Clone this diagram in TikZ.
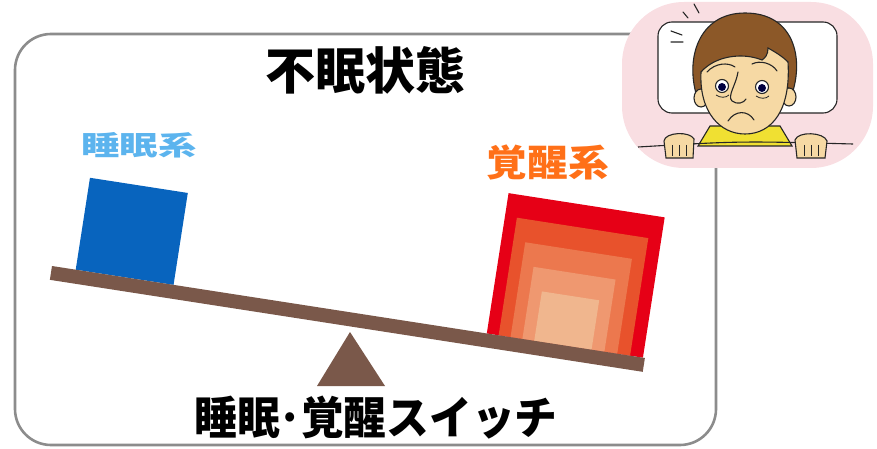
\documentclass[tikz,border=0pt]{standalone}
\usepackage{fontspec}
\newfontfamily\jp{Noto Sans CJK JP}
\usetikzlibrary{positioning}

\definecolor{beamcol}{RGB}{122,88,74}
\definecolor{sleepcol}{RGB}{8,100,190}
\definecolor{sleeptxt}{RGB}{92,180,238}
\definecolor{waketxt}{RGB}{255,112,24}
\definecolor{redA}{RGB}{230,0,22}
\definecolor{redB}{RGB}{232,82,44}
\definecolor{redC}{RGB}{236,120,78}
\definecolor{redD}{RGB}{239,152,112}
\definecolor{redE}{RGB}{240,182,142}
\definecolor{pinkbg}{RGB}{249,222,226}
\definecolor{skin}{RGB}{246,217,164}
\definecolor{hair}{RGB}{140,88,40}
\definecolor{shirt}{RGB}{240,224,50}

\begin{document}
\begin{tikzpicture}[x=1pt, y=-1pt,
  frame/.style={draw=black!45, line width=2.6pt, rounded corners=36pt},
  heading/.style={font=\jp\bfseries\fontsize{50}{50}\selectfont, inner sep=0pt},
  caption/.style={font=\jp\bfseries\fontsize{45}{45}\selectfont, inner sep=0pt},
  sidelabel/.style={font=\jp\bfseries, inner sep=0pt},
  ink/.style={draw=black!85, line width=1.1pt},
  ]
\useasboundingbox (0,0) rectangle (877,449);

% outer frame
\draw[frame] (15,34) rectangle (716,445);

% seesaw: boxes, beam, fulcrum
\begin{scope}[shift={(52,266)}, rotate=-8.82]
  \fill[sleepcol] (24,-93) rectangle (123,0);
  \foreach \c [count=\i from 0] in {redA,redB,redC,redD,redE}
    \fill[\c] (440+12*\i, -142+23*\i) rectangle (598-13*\i, 0);
  \fill[beamcol] (0,0) rectangle (600,14);
\end{scope}
\fill[beamcol] (350,332) -- (385,386) -- (317,386) -- cycle;

% labels
\node[heading] (title) at (365,70) {不眠状態};
\node[sidelabel, text=sleeptxt] (sleeplabel) at (139,145)
  {\fontsize{27}{27}\selectfont\scalebox{1.42}[1]{睡眠系}};
\node[sidelabel, text=waketxt] (wakelabel) at (548,162)
  {\fontsize{37}{37}\selectfont\scalebox{1.1}[1]{覚醒系}};
\node[caption] (switch) at (376,418) {\scalebox{0.95}[1]{睡眠･覚醒スイッチ}};

% sleepless boy in bed
\fill[pinkbg, rounded corners=62pt] (622,2) rectangle (873,168);
\draw[ink, fill=white, rounded corners=14pt] (658,22) rectangle (837,113);
\draw[ink, line cap=round] (683,12) -- (688,18) (694,4) -- (699,13)
  (671,31) -- (682,35) (671,42) -- (683,42);
% hair
\draw[ink, fill=hair] (698,100) .. controls (684,60) and (698,13) .. (745,13)
  .. controls (794,13) and (804,58) .. (792,94) -- (770,60) -- (720,60) -- cycle;
% shirt
\draw[ink, fill=shirt] (710,126) -- (780,126) -- (792,146) -- (698,146) -- cycle;
% ears and face
\draw[ink, fill=skin] (701,98) ellipse (7pt and 9pt);
\draw[ink, fill=skin] (789,97) ellipse (7pt and 9pt);
\draw[ink, fill=skin] (701,72) .. controls (699,112) and (720,134) .. (745,134)
  .. controls (772,134) and (791,110) .. (788,62)
  .. controls (782,56) and (775,52) .. (768,48)
  .. controls (768,55) and (765,58) .. (762,60)
  .. controls (742,52) and (715,56) .. (701,72) -- cycle;
% eyes, brows, nose, mouth
\draw[ink, fill=white] (722,86) circle (6.5pt) (762,87) circle (6.5pt);
\fill[black!75!blue] (722,87) circle (4pt) (762,88) circle (4pt);
\draw[ink, line width=0.8pt] (716,95) .. controls (720,98) and (726,98) .. (729,95)
  (756,96) .. controls (760,99) and (766,99) .. (769,96);
\draw[ink, line cap=round] (707,72) .. controls (715,63) and (728,62) .. (735,67)
  (752,64) .. controls (760,60) and (772,63) .. (777,71);
\draw[ink, line cap=round] (738,72) .. controls (736,85) and (727,96) .. (732,101)
  .. controls (737,105) and (744,103) .. (746,99);
\draw[ink, line cap=round] (728,121) .. controls (735,110) and (748,110) .. (754,120);
% blanket edge and hands
\draw[ink] (638,147) .. controls (740,141) .. (853,144);
\draw[ink, fill=skin] (666,158) -- (664,141) .. controls (665,132) and (690,131) .. (694,139)
  -- (693,158) -- cycle;
\draw[ink, fill=skin] (797,158) -- (795,140) .. controls (798,131) and (824,132) .. (827,141)
  -- (825,158) -- cycle;
\foreach \x in {672,679,686,804,811,818}
  \draw[ink, line width=0.8pt] (\x,145) -- (\x,156);
\end{tikzpicture}
\end{document}
